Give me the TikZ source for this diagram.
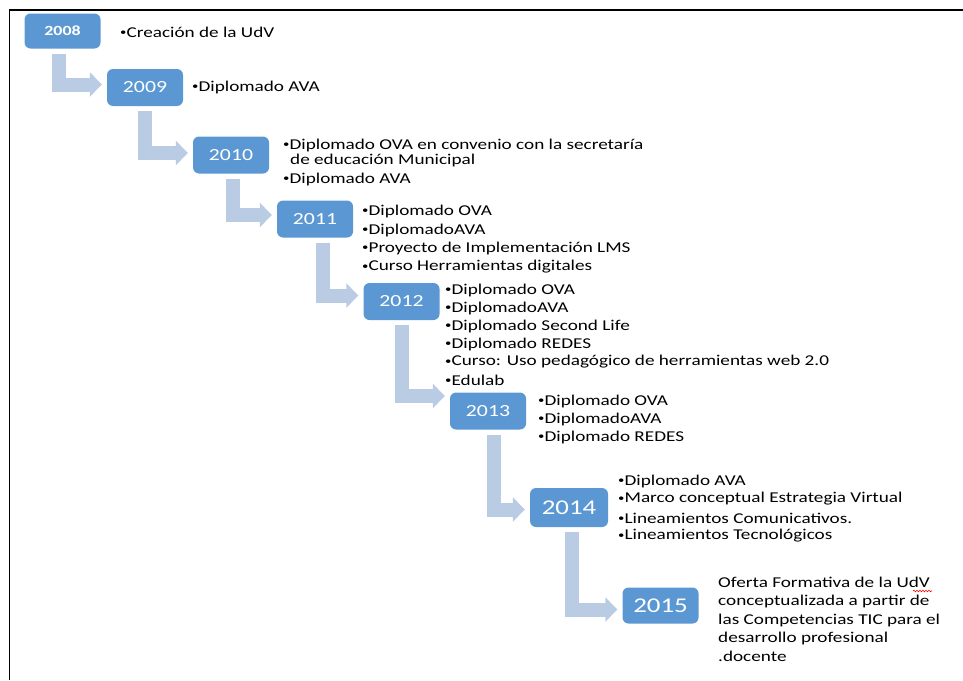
\documentclass[tikz,border=0pt]{standalone}
\usepackage{fontspec}
\setmainfont{Carlito}[FakeStretch=1.28]
\usetikzlibrary{arrows.meta,decorations.pathmorphing}
\definecolor{boxblue}{RGB}{91,152,211}
\definecolor{arrowblue}{RGB}{185,204,228}
\newcommand\smbul{\raisebox{1.2pt}{\fontsize{10}{10}\selectfont•}}
\begin{document}
\begin{tikzpicture}[x=1pt,y=-1pt,
  yearbox/.style={fill=boxblue, rounded corners=6pt, minimum width=76pt, minimum height=37pt,
    text=white, inner sep=0pt, font=\fontsize{17}{17}\selectfont},
  item/.style={anchor=west, inner sep=0pt, font=\fontsize{15}{18.5}\selectfont},
  conn/.style={draw=arrowblue, line width=14pt, line cap=butt, line join=miter,
    -{Triangle[width=24pt,length=12pt]}},
  frame/.style={line width=1.5pt}]
\useasboundingbox (0,0) rectangle (963,680);
\draw[frame] (9.5,680) -- (9.5,10) -- (963,10);

% year boxes
\node[yearbox, font=\bfseries\fontsize{14}{14}\selectfont, minimum height=35pt] (y08) at (62.5,31) {2008};
\node[yearbox] (y09) at (145,87.5) {2009};
\node[yearbox] (y10) at (231,155) {2010};
\node[yearbox] (y11) at (315,219) {2011};
\node[yearbox] (y12) at (401.5,301.5) {2012};
\node[yearbox] (y13) at (488,411) {2013};
\node[yearbox, minimum width=78pt, minimum height=39pt, font=\fontsize{21}{21}\selectfont] (y14) at (569,507.5) {2014};
\node[yearbox, minimum height=36pt, font=\fontsize{21}{21}\selectfont] (y15) at (660.5,605.5) {2015};

% connectors
\draw[conn] ([xshift=-4pt,yshift=-5pt]y08.south) |- ([xshift=-5pt,yshift=3pt]y09.west);
\draw[conn] ([xshift=0pt,yshift=-5pt]y09.south) |- ([xshift=-5pt,yshift=2pt]y10.west);
\draw[conn] ([xshift=2pt,yshift=-5pt]y10.south) |- ([xshift=-5pt,yshift=4pt]y11.west);
\draw[conn] ([xshift=8pt,yshift=-5pt]y11.south) |- ([xshift=-5pt,yshift=6pt]y12.west);
\draw[conn] ([xshift=0pt,yshift=-5pt]y12.south) |- ([xshift=-5pt,yshift=15pt]y13.west);
\draw[conn] ([xshift=6pt,yshift=-5pt]y13.south) |- ([xshift=-5pt,yshift=-2pt]y14.west);
\draw[conn] ([xshift=3pt,yshift=-5pt]y14.south) |- ([xshift=-5pt,yshift=-4pt]y15.west);

% 2008
\node[item] (t08a) at (120,32) {\smbul Creación de la UdV};
% 2009
\node[item] (t09a) at (192,87) {\smbul Diplomado AVA};
% 2010
\node[item] (t10a) at (283,145) {\smbul Diplomado OVA en convenio con la secretaría};
\node[item] (t10b) at (290,160) {de educación Municipal};
\node[item] (t10c) at (283,179) {\smbul Diplomado AVA};
% 2011
\node[item] (t11a) at (362,211) {\smbul Diplomado OVA};
\node[item] (t11b) at (362,230) {\smbul DiplomadoAVA};
\node[item] (t11c) at (362,248) {\smbul Proyecto de Implementación LMS};
\node[item] (t11d) at (362,267) {\smbul Curso Herramientas digitales};
% 2012
\node[item] (t12a) at (445,290) {\smbul Diplomado OVA};
\node[item] (t12b) at (445,308) {\smbul DiplomadoAVA};
\node[item] (t12c) at (445,326) {\smbul Diplomado Second Life};
\node[item] (t12d) at (445,344) {\smbul Diplomado REDES};
\node[item] (t12e) at (445,362) {\smbul Curso: Uso pedagógico de herramientas web 2.0};
\node[item] (t12f) at (445,380) {\smbul Edulab};
% 2013
\node[item] (t13a) at (538,401) {\smbul Diplomado OVA};
\node[item] (t13b) at (538,419) {\smbul DiplomadoAVA};
\node[item] (t13c) at (538,437) {\smbul Diplomado REDES};
% 2014
\node[item] (t14a) at (618,481) {\smbul Diplomado AVA};
\node[item] (t14b) at (618,499) {\smbul Marco conceptual Estrategia Virtual};
\node[item] (t14c) at (618,518) {\smbul Lineamientos Comunicativos.};
\node[item] (t14d) at (618,536) {\smbul Lineamientos Tecnológicos};
% 2015
\node[item, align=left] (t15) at (718,619) {Oferta Formativa de la UdV\\conceptualizada a partir de\\las Competencias TIC para el\\desarrollo profesional\\.docente};
\draw[red, line width=0.6pt, decorate, decoration={snake, amplitude=0.8pt, segment length=3pt}] (913,591) -- (932,591);
\end{tikzpicture}
\end{document}
